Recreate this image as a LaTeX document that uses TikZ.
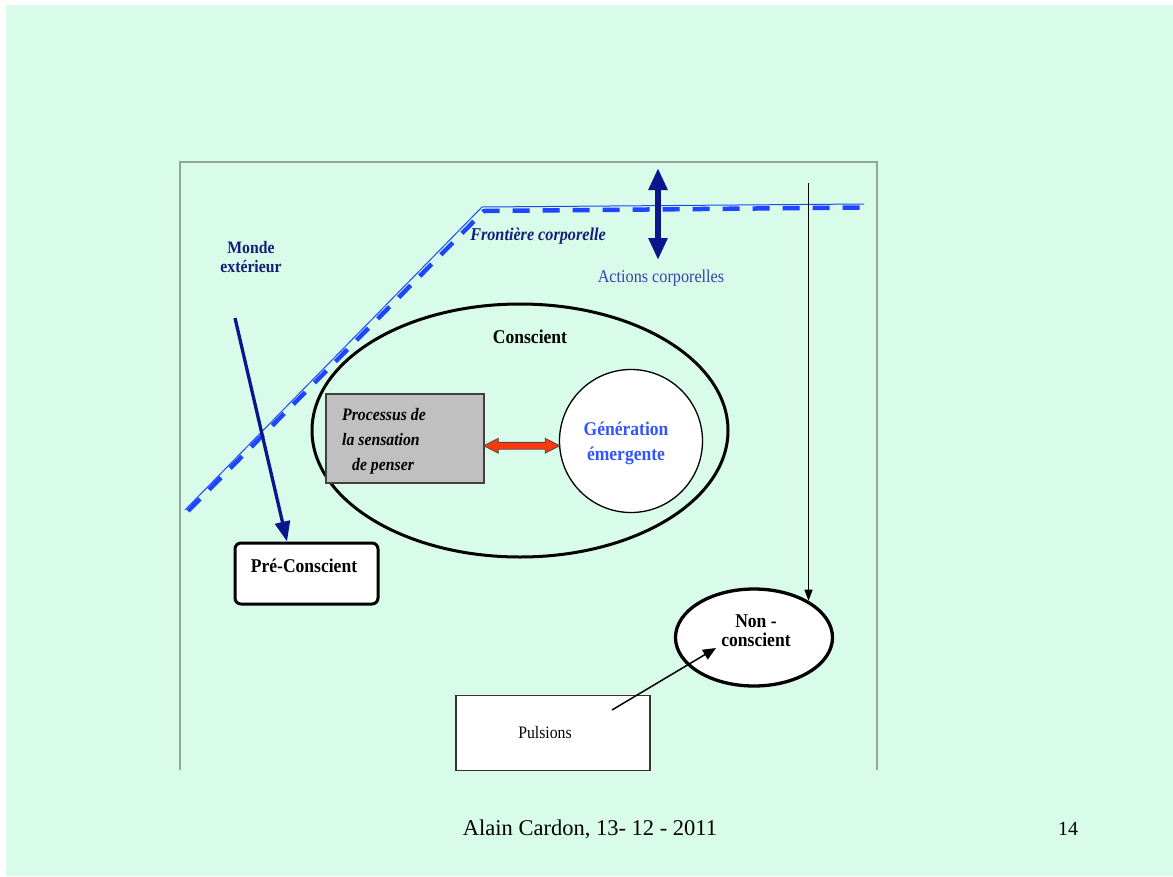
\documentclass[tikz,border=0pt]{standalone}
\usepackage{fontspec}
\setmainfont{Liberation Serif}[FakeStretch=0.9]
\newfontfamily\footfont{Liberation Serif}
\usetikzlibrary{shapes.geometric,shapes.arrows,arrows.meta,calc}
\definecolor{slidebg}{RGB}{216,252,233}
\definecolor{framegray}{RGB}{145,165,155}
\definecolor{bodyblue}{RGB}{30,70,255}
\definecolor{navy}{RGB}{12,22,140}
\definecolor{navytext}{RGB}{22,30,120}
\definecolor{actblue}{RGB}{55,65,170}
\definecolor{genblue}{RGB}{50,85,255}
\definecolor{procgray}{RGB}{192,192,192}
\definecolor{linkred}{RGB}{255,55,10}
\begin{document}
\begin{tikzpicture}[x=1pt,y=-1pt,
  lbl/.style={inner sep=0,anchor=base},
  boldlbl/.style={lbl,font=\bfseries\fontsize{19.5}{19}\selectfont},
  plainbox/.style={draw=black!80,fill=white,line width=1.3,inner sep=0},
  thickarrow/.style={navy,line width=3.3,-{Triangle[width=15pt,length=20pt]}},
  thinarrow/.style={black,line width=1.2,-{Triangle[width=8pt,length=11pt]}}]
\useasboundingbox (0,0) rectangle (1173,876);
\fill[white] (0,0) rectangle (1173,876);
\fill[slidebg] (6,5) rectangle (1173,876);
% open frame of the drawing area
\draw[framegray,line width=1.5] (180,770) -- (180,162) -- (877,162) -- (877,770);

% body boundary: thin line doubled by heavy dashes
\draw[bodyblue,line width=1] (185,510) -- (482,207) -- (864,204);
\draw[bodyblue,line width=4.5,dash pattern=on 17pt off 13pt] (188,511) -- (484,211) -- (864,207.5);

% multi-line labels are placed by the baseline of their last line
\node[lbl,font=\bfseries\fontsize{17.5}{19}\selectfont,text=navytext,align=center] (monde) at (251,272) {Monde\\extérieur};
\node[lbl,font=\bfseries\itshape\fontsize{18}{20}\selectfont,text=navytext] (front) at (538,240) {Frontière corporelle};
\node[lbl,font=\fontsize{18}{20}\selectfont,text=actblue] (actions) at (661,282) {Actions corporelles};

% bodily actions crossing the boundary
\coordinate (actup) at (658,168);
\coordinate (actdown) at (658,260);
\draw[navy,line width=6,{Triangle[width=18pt,length=22pt]}-{Triangle[width=18pt,length=22pt]}] (actup) -- (actdown);

% conscious field
\node[draw,line width=3,ellipse,minimum width=416,minimum height=253,inner sep=0] (cons) at (520,430.5) {};
\node[lbl,font=\bfseries\fontsize{19.5}{20}\selectfont] (conslbl) at (530,343) {Conscient};

\node[draw=black!75,fill=procgray,line width=1.3,minimum width=158,minimum height=89,inner sep=0] (proc) at (405,438.5) {};
\node[font=\bfseries\itshape\fontsize{17.5}{25}\selectfont,align=left,anchor=base west,inner sep=0] (proctext) at (342,470) {Processus de\\la sensation\\\hspace*{10pt}de penser};

\node[draw,fill=white,circle,line width=1.3,minimum size=143,inner sep=0] (gen) at (631,441) {};
\node[lbl,font=\bfseries\fontsize{19.5}{25}\selectfont,text=genblue,align=center] (gentext) at (626,460) {Génération\\émergente};

\node[double arrow,draw=black!70,fill=linkred,line width=0.8,minimum height=76,
      inner xsep=0,inner ysep=3,double arrow head extend=4,double arrow tip angle=54] (link)
      at ($(proc.east)!.5!(gen.west)+(0,6)$) {};

% pre-conscious
\node[draw,fill=white,rounded corners=6,line width=3,minimum width=143,minimum height=61,inner sep=0] (pre) at (306.5,573.5) {};
\node[boldlbl] (pretext) at (304,572) {Pré-Conscient};
\coordinate (mondesrc) at (235,318);
\draw[thickarrow] (mondesrc) -- ($(pre.north)+(-19.5,0)$);

% non-conscious
\node[draw,fill=white,ellipse,line width=3.3,minimum width=157,minimum height=97,inner sep=0] (nc) at (754,637.5) {};
\node[boldlbl,align=center] (nctext) at (756,646) {Non -\\conscient};
\coordinate (ncin) at (nc.34);
\coordinate (ncsrc) at (ncin |- 0,183);
\draw[thinarrow] (ncsrc) -- (ncin);

\node[plainbox,minimum width=194,minimum height=75] (pul) at (553,733) {};
\node[lbl,font=\fontsize{17.5}{20}\selectfont] (pultext) at (545,738) {Pulsions};
\coordinate (pulsrc) at ($(pul.center)+(59,-23)$);
\coordinate (ncdst) at ($(nc.center)+(-38,10.5)$);
\draw[black,line width=1.5,-{Triangle[width=11pt,length=13pt]}] (pulsrc) -- (ncdst);

% footer
\node[lbl,font=\footfont\fontsize{22.5}{24}\selectfont] (footer) at (590,835) {Alain Cardon, 13- 12 - 2011};
\node[lbl,font=\footfont\fontsize{20}{24}\selectfont] (pagenum) at (1068,835) {14};
\end{tikzpicture}
\end{document}
